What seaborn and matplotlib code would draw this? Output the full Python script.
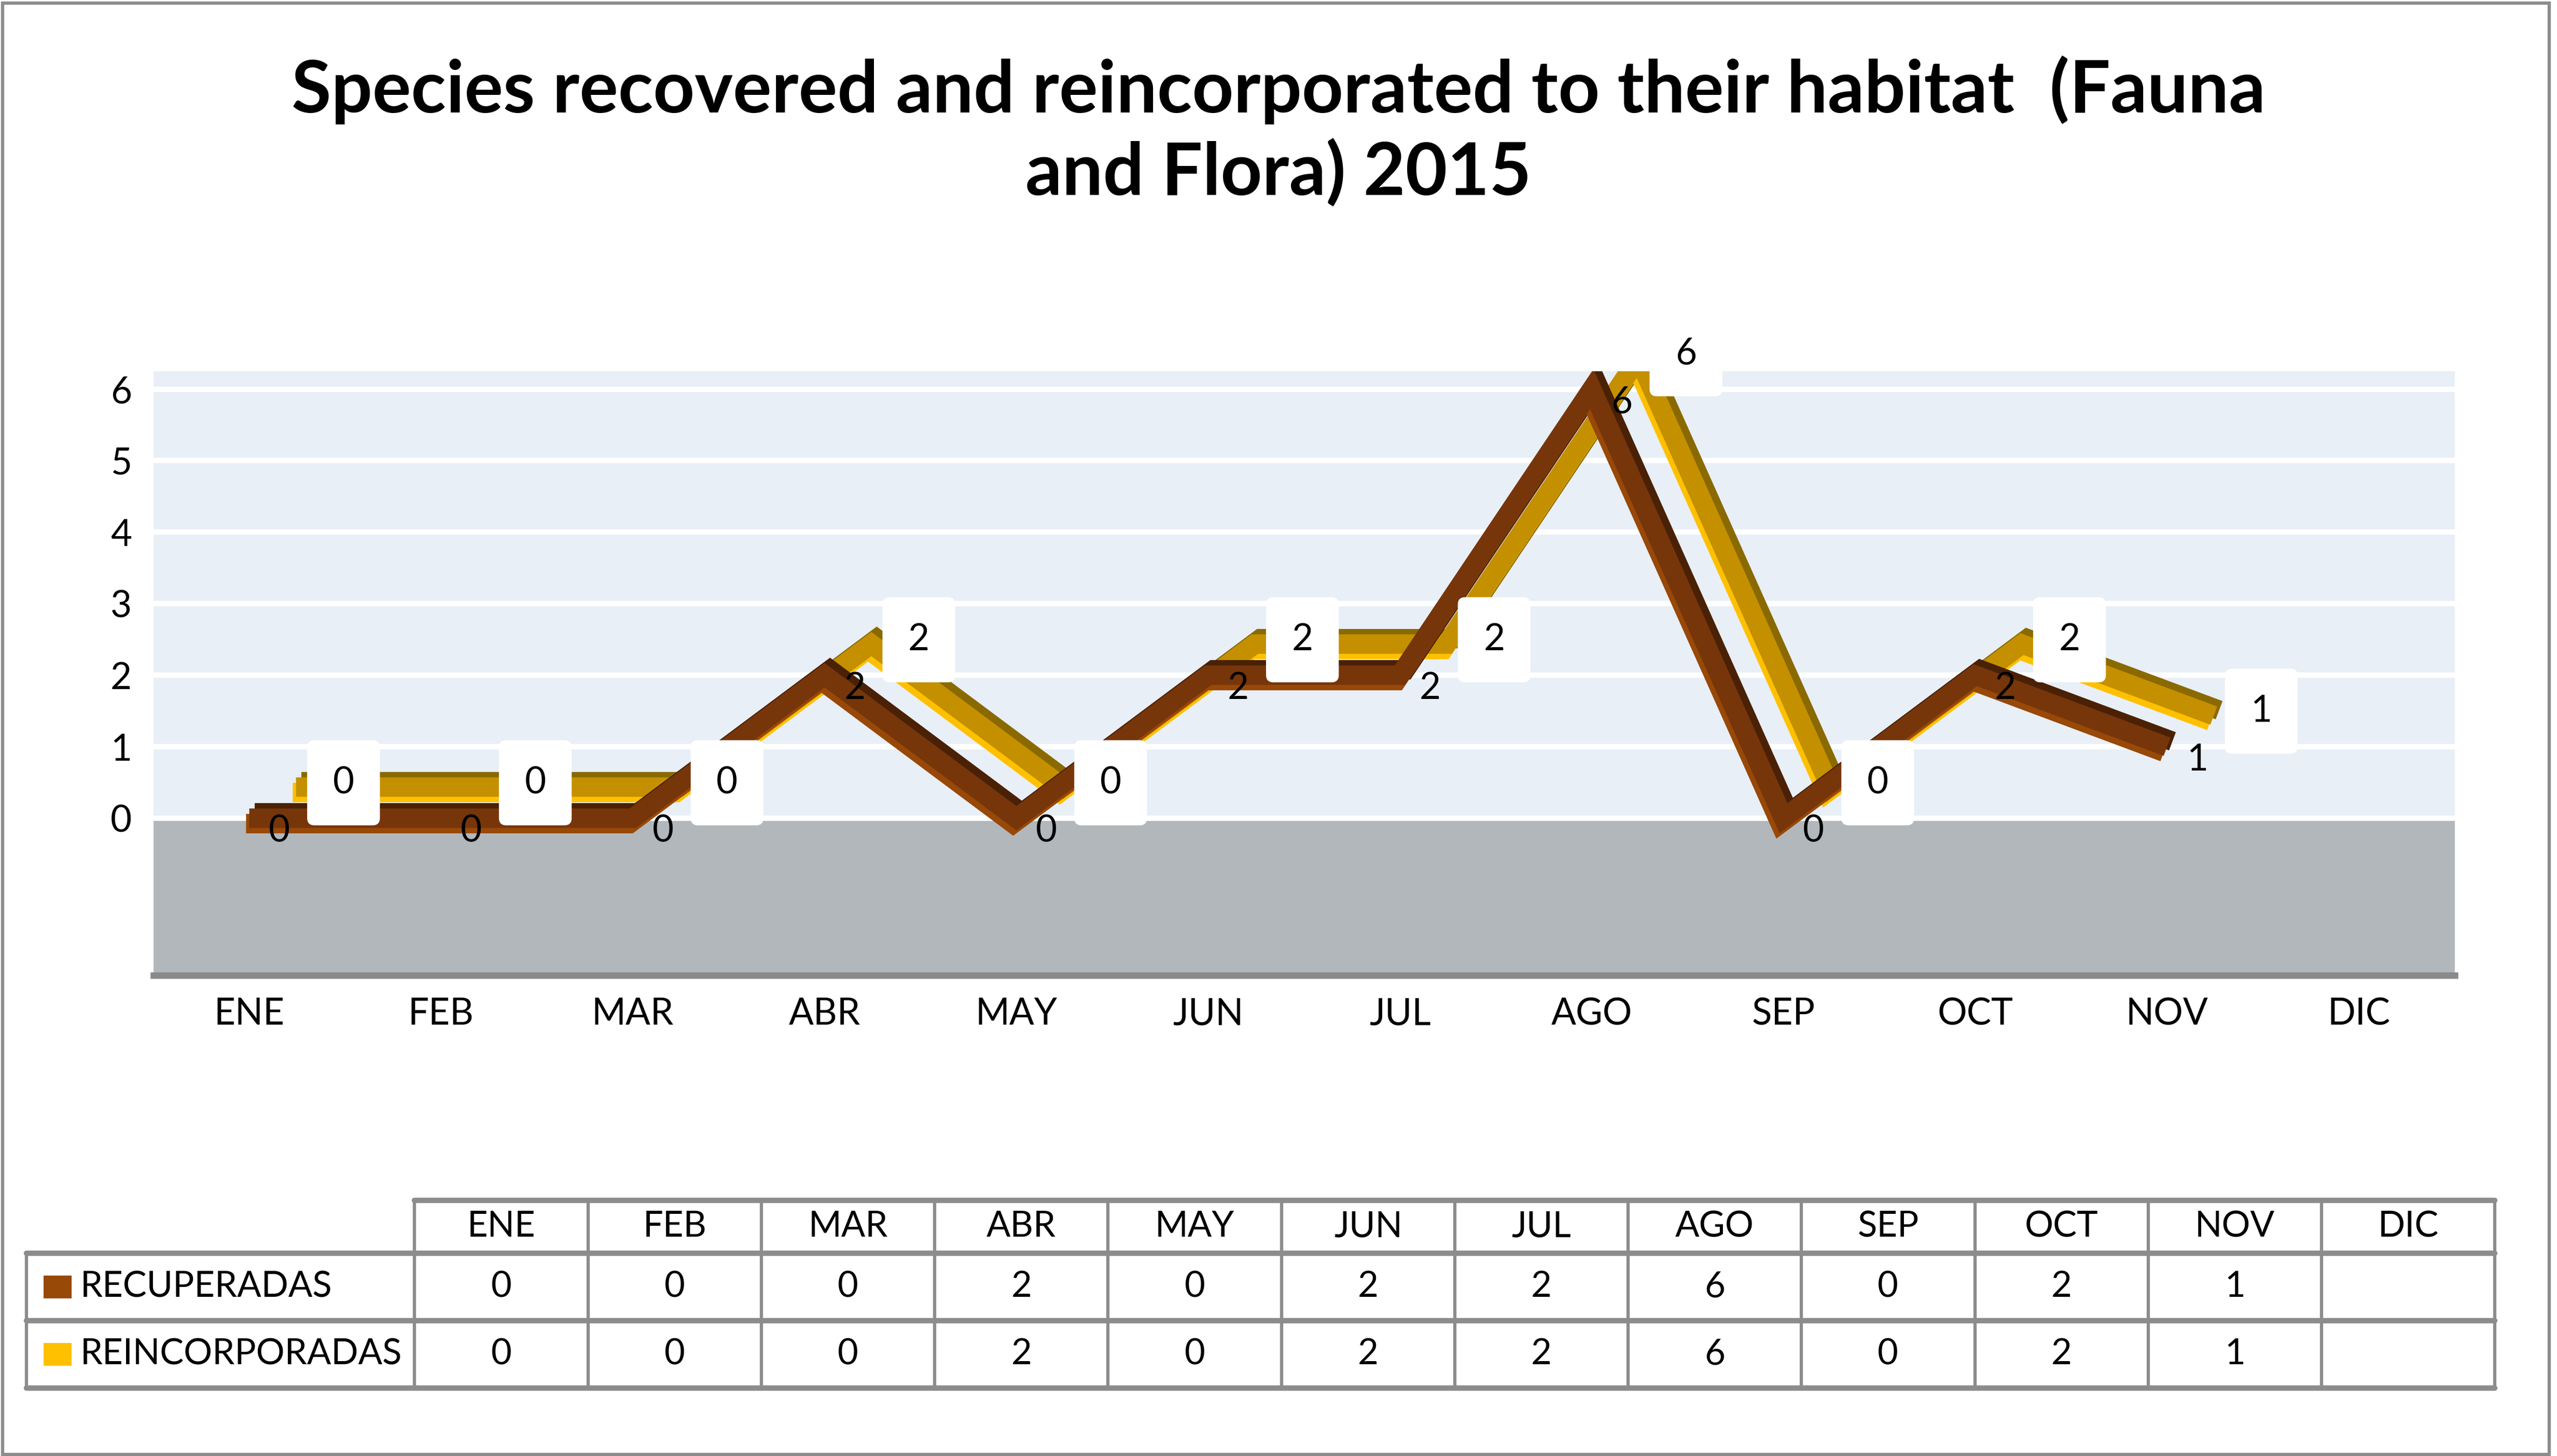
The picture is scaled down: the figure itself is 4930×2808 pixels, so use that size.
import numpy as np
import pandas as pd
import matplotlib
matplotlib.use("Agg")
import matplotlib.pyplot as plt
import matplotlib.patheffects as pe
import matplotlib.transforms as mtransforms
from matplotlib.patches import Rectangle
import seaborn as sns

# Chart data
months = ['ENE', 'FEB', 'MAR', 'ABR', 'MAY', 'JUN', 'JUL', 'AGO', 'SEP', 'OCT', 'NOV', 'DIC']
recuperadas = [0, 0, 0, 2, 0, 2, 2, 6, 0, 2, 1, np.nan]
reincorporadas = [0, 0, 0, 2, 0, 2, 2, 6, 0, 2, 1, np.nan]
series_names = ['RECUPERADAS', 'REINCORPORADAS']
y_ticks = [0, 1, 2, 3, 4, 5, 6]
title = 'Species recovered and reincorporated to their habitat  (Fauna\nand Flora) 2015'

# Colours (face, bright edge, shadow)
face = {'RECUPERADAS': '#77350A', 'REINCORPORADAS': '#C49000'}
edge = {'RECUPERADAS': '#984807', 'REINCORPORADAS': '#FFC000'}
shade = {'RECUPERADAS': '#4A2105', 'REINCORPORADAS': '#8A6A00'}

sns.set_theme(style='white')
plt.rcParams['font.family'] = ['Lato', 'DejaVu Sans']
plt.rcParams['text.color'] = 'black'
plt.rcParams['xtick.color'] = 'black'
plt.rcParams['ytick.color'] = 'black'

# long form table for seaborn
df = pd.DataFrame({
    'pos': list(range(len(months))) * 2,
    'month': months * 2,
    'value': recuperadas + reincorporadas,
    'serie': [series_names[0]] * len(months) + [series_names[1]] * len(months),
})

fig = plt.figure(figsize=(4930 / 300, 2808 / 300), dpi=300)
fig.patch.set_facecolor('white')
fig.patches.append(Rectangle((0.001, 0.001), 0.996, 0.997, transform=fig.transFigure,
                             fill=False, edgecolor='#8C8C8C', linewidth=1.5))

fig.text(0.5, 0.91, title, ha='center', va='center', fontsize=33.5, fontweight='bold',
         linespacing=1.25, color='black')

ax = fig.add_axes([0.06, 0.33, 0.9, 0.415])
ax.set_facecolor('#E8EFF6')
ax.axhspan(-2.2, 0, color='#B2B7BB', zorder=0.5, linewidth=0)

sns.lineplot(data=df, x='pos', y='value', hue='serie', hue_order=series_names,
             palette=face, linewidth=9, sort=False, legend=False, ax=ax)

# depth offset for the second (rear) series, like the 3D original
depth = mtransforms.ScaledTranslation(0.30, 0.20, fig.dpi_scale_trans)
trans_rear = ax.transData + depth

lines = ax.get_lines()
for line, name in zip(lines, series_names):
    line.set_solid_joinstyle('miter')
    line.set_solid_capstyle('butt')
    line.set_path_effects([
        pe.Stroke(linewidth=9, foreground=shade[name], offset=(2.5, 2.5)),
        pe.Stroke(linewidth=9, foreground=edge[name], offset=(-1.5, -2.5)),
        pe.Normal(),
    ])
lines[0].set_zorder(4)
lines[1].set_zorder(3)
lines[1].set_transform(trans_rear)

# data labels
for x, v in enumerate(recuperadas):
    if np.isnan(v):
        continue
    ax.annotate(f'{v:g}', xy=(x, v), xytext=(9, -6), textcoords='offset points',
                ha='left', va='center', fontsize=17, color='black', zorder=6)
for x, v in enumerate(reincorporadas):
    if np.isnan(v):
        continue
    ax.annotate(f'{v:g}', xy=(x, v), xycoords=trans_rear, xytext=(22, 2),
                textcoords='offset points', ha='center', va='center', fontsize=17,
                color='black', zorder=7,
                bbox=dict(boxstyle='round,pad=0.7,rounding_size=0.2', fc='white', ec='none'))

ax.set_xlim(-0.5, len(months) - 0.5)
ax.set_ylim(-2.2, 6.25)
ax.set_yticks(y_ticks)
ax.set_yticklabels([str(t) for t in y_ticks], fontsize=17)
ax.set_xticks(range(len(months)))
ax.set_xticklabels(months, fontsize=17)
ax.tick_params(axis='both', length=0, pad=10)
ax.grid(axis='y', color='white', linewidth=2.5)
ax.set_axisbelow(True)
ax.set_xlabel('')
ax.set_ylabel('')
for s in ['top', 'right', 'left']:
    ax.spines[s].set_visible(False)
ax.spines['bottom'].set_color('#8A8A8A')
ax.spines['bottom'].set_linewidth(3)

# data table below the chart
tab = fig.add_axes([0.0103, 0.0467, 0.9654, 0.129])
label_w = 2.24
total_w = label_w + len(months)
head_h = 102 / 130
rows_y = [0, head_h, head_h + 1, head_h + 2]
tab.set_xlim(0, total_w)
tab.set_ylim(rows_y[-1], 0)
tab.axis('off')
grid_c = '#8C8C8C'
tab.plot([label_w, total_w], [0, 0], color=grid_c, lw=2.5, clip_on=False)
for yy in rows_y[1:]:
    tab.plot([0, total_w], [yy, yy], color=grid_c, lw=2.5, clip_on=False)
tab.plot([0, 0], [rows_y[1], rows_y[-1]], color=grid_c, lw=1.5, clip_on=False)
for i in range(len(months) + 1):
    xx = label_w + i
    tab.plot([xx, xx], [0, rows_y[-1]], color=grid_c, lw=1.5, clip_on=False)
for i, m in enumerate(months):
    tab.text(label_w + i + 0.5, head_h / 2, m, ha='center', va='center', fontsize=16.5)
table_rows = [recuperadas, reincorporadas]
for r, (name, vals) in enumerate(zip(series_names, table_rows)):
    yc = rows_y[r + 1] + 0.5
    tab.add_patch(Rectangle((0.1, yc - 0.17), 0.16, 0.34, color=edge[name], lw=0))
    tab.text(0.31, yc, name, ha='left', va='center', fontsize=16.5)
    for i, v in enumerate(vals):
        if np.isnan(v):
            continue
        tab.text(label_w + i + 0.5, yc, f'{v:g}', ha='center', va='center', fontsize=16.5)

fig.savefig('out.png', dpi=300)
